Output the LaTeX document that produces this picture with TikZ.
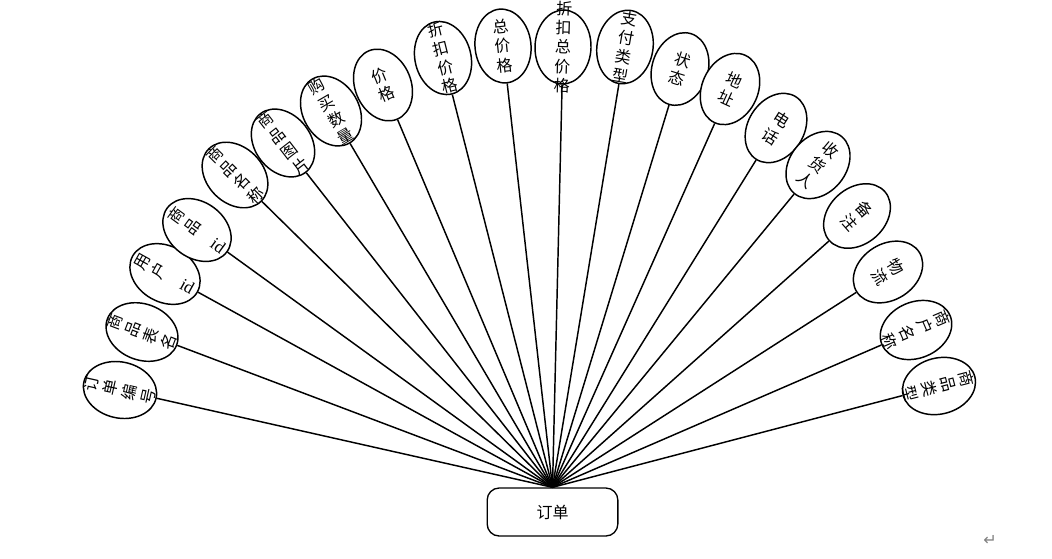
\documentclass[tikz,border=0pt]{standalone}
\usepackage{fontspec}
\usepackage{graphicx}
\setmainfont{Noto Sans CJK SC}
\newfontfamily\latfont{Liberation Serif}
\newfontfamily\symfont{DejaVu Sans}
\usetikzlibrary{shapes.geometric}
\tikzset{
  attr/.style={ellipse, draw, line width=1.1pt, minimum width=42pt, minimum height=55.5pt, inner sep=0pt, fill=white},
  lab/.style={align=center, inner sep=0pt, font=\fontsize{12}{14.5}\selectfont},
  conn/.style={line width=1.1pt},
  entity/.style={draw, line width=1pt, rounded corners=9pt, minimum width=98pt, minimum height=36pt, inner sep=0pt, font=\fontsize{12}{14}\selectfont},
}
\newcommand{\idtxt}{\rotatebox{-90}{\latfont\fontsize{13}{13}\selectfont id}}
\begin{document}
\begin{tikzpicture}[x=0.75pt,y=-0.75pt]
\useasboundingbox (0,0) rectangle (1052,558);
\node[entity] (box) at (552.5,512) {订单};
\foreach \x/\y/\a/\t [count=\i] in {
  120/390/77.3/{订\\单\\编\\号},
  142/332/69.2/{商\\品\\表\\名},
  165/274/61/{用\\户\\\idtxt},
  197/230/53.9/{商\\品\\\idtxt},
  235/175/45.2/{商\\品\\名\\称},
  283/143/37.7/{商\\品\\图\\片},
  331/111/30.1/{购\\买\\数\\量},
  383/85/22.4/{价\\格},
  443/58/13.9/{折\\扣\\价\\格},
  503/46/6/{总\\价\\格},
  563/47/-1.8/{折\\扣\\总\\价\\格},
  625/47/-9.8/{支\\付\\类\\型},
  680/69/-17.4/{状\\态},
  730/89/-24.5/{地\\址},
  776/128/-32.3/{电\\话},
  818/165/-39.9/{收\\货\\人},
  857/216/-48.7/{备\\注},
  888/272/-57.6/{物\\流},
  916/330/-66.8/{商\\户\\名\\称},
  939/386/-75.5/{商\\品\\类\\型}}
{
  \node[attr, rotate=\a] (e\i) at (\x,\y) {};
  \node[lab, rotate=\a] (t\i) at (e\i) {\t};
  \draw[conn] (box.north) -- (e\i);
}
\node[font=\symfont\fontsize{12}{12}\selectfont, text=gray] (ret) at (990,540) {↵};
\end{tikzpicture}
\end{document}
